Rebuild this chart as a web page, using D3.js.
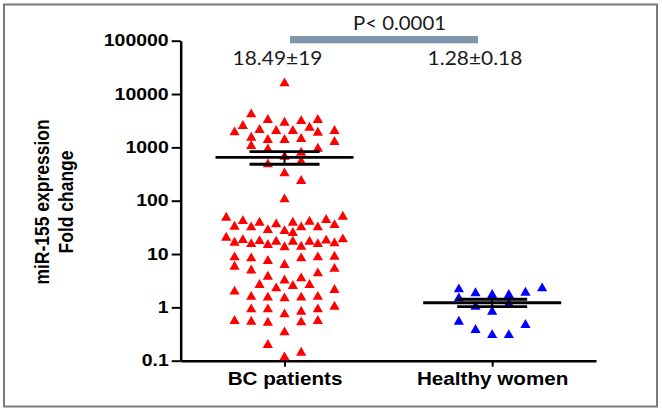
<!DOCTYPE html>
<html>
<head>
<meta charset="utf-8">
<script src="https://cdn.jsdelivr.net/npm/d3@7"></script>
<style>
  html, body { margin: 0; padding: 0; background: #fff; }
  svg { display: block; }
</style>
</head>
<body>
<svg id="chart" width="662" height="410"></svg>
<script>
// ---------------- data ----------------
const categories = ["BC patients", "Healthy women"];
const yTicks = [0.1, 1, 10, 100, 1000, 10000, 100000];
const yTickLabels = ["0.1", "1", "10", "100", "1000", "10000", "100000"];

// BC patients: fold-change values and their scatter column (slot) in the swarm
const bcValues = [15900, 4170, 3260, 2900, 3120, 3260, 2515, 2118, 2027, 2027,
  2338, 1916, 1884, 2027, 1518, 1375, 1375, 1435, 1261, 1061,
  920, 944, 794, 668, 481, 539, 326, 234, 106, 48,
  41.6, 38.7, 36.1, 38.7, 40.4, 43.5, 50.1, 32.5, 31.7, 28.2,
  27.0, 31.7, 31.7, 35.0, 24.8, 20.2, 18.3, 17.5, 17.0, 17.0,
  17.0, 17.8, 18.9, 16.3, 15.4, 14.8, 13.4, 13.7, 15.4, 15.9,
  8.68, 8.32, 7.40, 6.23, 8.32, 8.68, 8.91, 5.79, 4.91, 5.29,
  3.76, 3.19, 3.51, 4.35, 2.63, 2.28, 2.52, 2.63, 1.97, 2.12,
  1.58, 1.52, 1.48, 1.52, 1.58, 1.03, 0.92, 0.92, 0.83, 0.92,
  0.74, 0.555, 0.538, 0.516, 0.525, 0.555, 0.341, 0.197, 0.141, 0.116];
const bcSlots = [0, -4, -2, 0, 2, 4, -5, -3, -1, 1,
  3, -6, 4, 6, -4, -2, 0, 2, 6, -4,
  -2, 4, 2, 0, -2, 2, 0, 2, 0, -7,
  -5, -3, -1, 1, 3, 5, 7, -6, -4, -2,
  0, 2, 4, 6, 1, -7, -5, -3, -1, 1,
  3, 5, 7, -6, -4, -2, 0, 2, 4, 6,
  -6, -4, -2, 0, 2, 4, 6, -6, -4, 6,
  -2, 0, 2, 4, -3, -1, 1, 3, -6, 6,
  -4, -2, 0, 2, 4, 6, -4, -2, 2, 4,
  0, -6, -4, -2, 2, 4, 0, -2, 2, 0];

// Healthy women
const hwValues = [2.18, 2.28, 1.84, 1.71, 1.71, 1.88, 1.48, 1.03, 1.16, 0.83,
  0.538, 0.467, 0.377, 0.303, 0.303];
const hwSlots = [-4, 6, -2, 0, 2, 4, -4, -2, 2, 0,
  -4, 4, -2, 0, 2];

// mean and SEM bars as drawn
const groupMean = [651, 1.22];
const groupSemLow = [482, 1.03];
const groupSemHigh = [830, 1.42];

const groupAnnot = ["18.49\u00B119", "1.28\u00B10.18"];
const pLabel = "P< 0.0001";
const yLabelLines = ["miR-155 expression", "Fold change"];

// ---------------- drawing ----------------
const svg = d3.select("#chart");
const L = 180.7, R = 596, T = 40.7, B = 360.7;
const STRETCH = 1.18;

function stretch(sel, k) {
  sel.each(function () {
    const w = this.getComputedTextLength();
    d3.select(this).attr("textLength", w * k).attr("lengthAdjust", "spacingAndGlyphs");
  });
}

// frame
svg.append("rect")
  .attr("x", 4).attr("y", 4.5).attr("width", 653).attr("height", 402)
  .attr("fill", "none").attr("stroke", "#7a7a7a").attr("stroke-width", 2);

const y = d3.scaleLog().domain([0.1, 100000]).range([B, T]);
const x = d3.scalePoint().domain(categories).range([L, R]).padding(0.5);
const slot = d3.scaleLinear().domain([-7, 7]).range([-58.3, 58.3]);

// y axis
const yAxis = svg.append("g").attr("transform", `translate(${L},0)`)
  .call(d3.axisLeft(y).tickValues(yTicks)
    .tickFormat((d, i) => yTickLabels[i])
    .tickSize(9).tickSizeOuter(0).tickPadding(3));
yAxis.select(".domain").attr("stroke", "#000").attr("stroke-width", 2.5);
yAxis.selectAll(".tick line").attr("stroke", "#000").attr("stroke-width", 2);
yAxis.selectAll(".tick text")
  .attr("fill", "#000")
  .style("font-family", "'Liberation Sans', Arial, sans-serif")
  .style("font-weight", "bold").style("font-size", "16.5px");
stretch(yAxis.selectAll(".tick text"), STRETCH);

// x axis
const xAxis = svg.append("g").attr("transform", `translate(0,${B})`)
  .call(d3.axisBottom(x).tickSize(6).tickSizeOuter(0).tickPadding(6));
xAxis.select(".domain").attr("stroke", "#000").attr("stroke-width", 2.5);
xAxis.selectAll(".tick line").attr("stroke", "#000").attr("stroke-width", 2);
xAxis.selectAll(".tick text")
  .attr("fill", "#000")
  .style("font-family", "'Liberation Sans', Arial, sans-serif")
  .style("font-weight", "bold").style("font-size", "17.5px");
stretch(xAxis.selectAll(".tick text"), STRETCH);

// y axis title (two lines), glyphs widened horizontally like the rest of the picture
const yTitleX = [49, 73];
yLabelLines.forEach((t, i) => {
  svg.append("text")
    .attr("transform", `translate(${yTitleX[i]},202) rotate(-90) scale(1,${STRETCH})`)
    .attr("text-anchor", "middle")
    .style("font-family", "'Liberation Sans', Arial, sans-serif")
    .style("font-weight", "bold").style("font-size", "17.5px")
    .attr("fill", "#000")
    .text(t);
});

// points
const tri = d3.symbol().type(d3.symbolTriangle).size(45);
const groups = [
  { cat: categories[0], values: bcValues, slots: bcSlots, color: "#ff0000" },
  { cat: categories[1], values: hwValues, slots: hwSlots, color: "#0000ff" }
];
groups.forEach(g => {
  svg.append("g").selectAll("path")
    .data(g.values.map((v, i) => ({ v, s: g.slots[i] })))
    .join("path")
    .attr("d", tri)
    .attr("fill", g.color)
    .attr("transform", d => `translate(${x(g.cat) + slot(d.s)},${y(d.v)})`);
});

// mean + SEM
categories.forEach((c, i) => {
  const cx = x(c);
  const gm = svg.append("g").attr("stroke", "#000");
  gm.append("line").attr("x1", cx).attr("x2", cx)
    .attr("y1", y(groupSemHigh[i])).attr("y2", y(groupSemLow[i])).attr("stroke-width", 2);
  gm.append("line").attr("x1", cx - 69).attr("x2", cx + 69)
    .attr("y1", y(groupMean[i])).attr("y2", y(groupMean[i])).attr("stroke-width", 2.8);
  [groupSemHigh[i], groupSemLow[i]].forEach(v => {
    gm.append("line").attr("x1", cx - 35).attr("x2", cx + 35)
      .attr("y1", y(v)).attr("y2", y(v)).attr("stroke-width", 2.8);
  });
});

// annotations
const annotFont = "Lato, 'Open Sans', sans-serif";
const annotX = [277.5, 475];
groupAnnot.forEach((t, i) => {
  const el = svg.append("text")
    .attr("x", annotX[i]).attr("y", 64.5)
    .attr("text-anchor", "middle")
    .style("font-family", annotFont).style("font-size", "19px")
    .attr("fill", "#1a1a1a")
    .text(t);
  stretch(el, 1.1);
});

// significance bar
svg.append("rect")
  .attr("x", 290).attr("y", 36).attr("width", 188).attr("height", 7.3)
  .attr("fill", "#8096ae");
const pEl = svg.append("text")
  .attr("x", 399.5).attr("y", 30)
  .attr("text-anchor", "middle")
  .style("font-family", annotFont).style("font-size", "18.5px")
  .attr("fill", "#1a1a1a")
  .text(pLabel);
stretch(pEl, 1.1);
</script>
</body>
</html>
